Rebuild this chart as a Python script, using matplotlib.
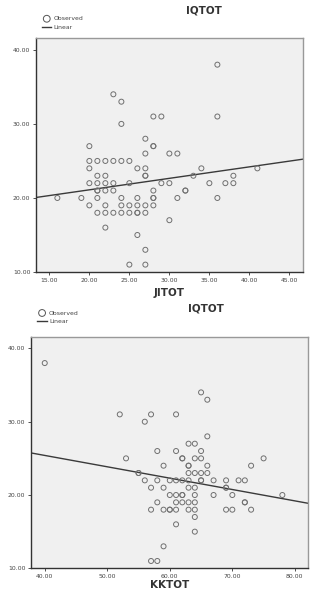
import numpy as np
from matplotlib import pyplot as plt
from matplotlib.ticker import FormatStrFormatter

# IQTOT vs JITOT (top panel)
jitot = [36, 23, 24, 28, 29, 36, 24, 27, 20, 28, 28, 27, 30, 31,
         20, 21, 22, 23, 24, 25,
         20, 26, 27, 34, 41,
         21, 22, 27, 27, 33, 38,
         20, 21, 22, 23, 25, 29, 30, 35, 37, 38,
         21, 21, 22, 23, 28, 32, 32,
         16, 19, 21, 24, 26, 28, 28, 31, 36,
         20, 22, 24, 25, 26, 27, 28,
         21, 22, 23, 24, 25, 26, 26, 27,
         30, 22, 26, 27, 25, 27]
iq_top = [38, 34, 33, 31, 31, 31, 30, 28, 27, 27, 27, 26, 26, 26,
          25, 25, 25, 25, 25, 25,
          24, 24, 24, 24, 24,
          23, 23, 23, 23, 23, 23,
          22, 22, 22, 22, 22, 22, 22, 22, 22, 22,
          21, 21, 21, 21, 21, 21, 21,
          20, 20, 20, 20, 20, 20, 20, 20, 20,
          19, 19, 19, 19, 19, 19, 19,
          18, 18, 18, 18, 18, 18, 18, 18,
          17, 16, 15, 13, 11, 11]
fit_top = (18.0, 0.155)  # intercept, slope of the linear fit

# IQTOT vs KKTOT (bottom panel)
kktot = [40, 52, 57, 61, 56, 65, 66, 66, 63, 64,
         58, 61, 65,
         53, 62, 62, 64, 65, 75,
         59, 63, 63, 66, 73,
         55, 55, 63, 64, 65, 66,
         56, 58, 60, 61, 62, 63, 65, 65, 67, 69, 71, 72,
         57, 59, 63, 64, 69, 69,
         60, 61, 62, 62, 64, 67, 70, 78,
         58, 61, 62, 63, 64, 72, 72,
         57, 59, 60, 60, 61, 63, 64, 69, 70, 73,
         64, 61, 64, 59, 57, 58]
iq_bot = [38, 31, 31, 31, 30, 34, 33, 28, 27, 27,
          26, 26, 26,
          25, 25, 25, 25, 25, 25,
          24, 24, 24, 24, 24,
          23, 23, 23, 23, 23, 23,
          22, 22, 22, 22, 22, 22, 22, 22, 22, 22, 22, 22,
          21, 21, 21, 21, 21, 21,
          20, 20, 20, 20, 20, 20, 20, 20,
          19, 19, 19, 19, 19, 19, 19,
          18, 18, 18, 18, 18, 18, 18, 18, 18, 18,
          17, 16, 15, 13, 11, 11]
fit_bot = (31.6, -0.155)


def panel(fig, rect, x, y, fit, xlim, xticks, xlabel, leg_xy, labelpad):
    ax = fig.add_axes(rect)
    ax.set_facecolor('#f0f0f0')
    ax.scatter(x, y, s=13, facecolors='none', edgecolors='#707070',
               linewidths=0.7, zorder=3)
    xs = np.array(xlim)
    line, = ax.plot(xs, fit[0] + fit[1] * xs, color='#3a3a3a', lw=1.0, zorder=2)
    ax.set_xlim(xlim)
    ax.set_ylim(10, 41.6)
    ax.set_xticks(xticks)
    ax.set_yticks([10, 20, 30, 40])
    ax.xaxis.set_major_formatter(FormatStrFormatter('%.2f'))
    ax.yaxis.set_major_formatter(FormatStrFormatter('%.2f'))
    ax.tick_params(labelsize=4.4, length=2.5, width=0.6, pad=1.5,
                   colors='#333333', labelcolor='#444444')
    for side in ['top', 'right']:
        ax.spines[side].set_color('#999999')
        ax.spines[side].set_linewidth(1.0)
    for side in ['left', 'bottom']:
        ax.spines[side].set_color('#333333')
        ax.spines[side].set_linewidth(1.0)
    ax.set_title('IQTOT', fontsize=7.5, fontweight='bold', color='#333333',
                 pad=18, x=0.63)
    ax.set_xlabel(xlabel, fontsize=7.5, fontweight='bold', color='#333333',
                  labelpad=labelpad)
    obs = ax.scatter([], [], s=24, facecolors='none', edgecolors='#555555', linewidths=0.7)
    fig.legend([obs, line], ['Observed', 'Linear'], loc='upper left',
               bbox_to_anchor=leg_xy, frameon=False, fontsize=4.4,
               handlelength=1.5, handletextpad=0.4, labelspacing=0.55,
               borderpad=0, labelcolor='#444444')
    return ax


fig = plt.figure(figsize=(3.13, 5.92), dpi=100)
fig.patch.set_facecolor('white')

panel(fig, [0.115, 0.5405, 0.853, 0.3953], jitot, iq_top, fit_top,
      (13.33, 46.7), [15, 20, 25, 30, 35, 40, 45], 'JITOT', (0.125, 0.978), 4)

panel(fig, [0.099, 0.04, 0.885, 0.3913], kktot, iq_bot, fit_bot,
      (37.8, 82.1), [40, 50, 60, 70, 80], 'KKTOT', (0.11, 0.481), 1)

fig.savefig('out.png', dpi=100)
